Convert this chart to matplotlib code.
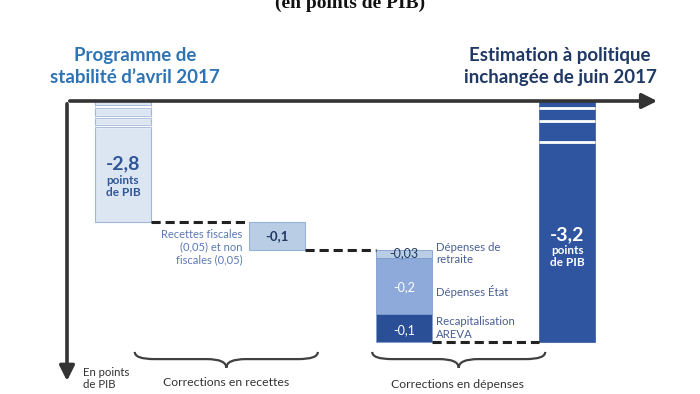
import matplotlib
matplotlib.use('Agg')
import matplotlib.pyplot as plt
from matplotlib.path import Path
from matplotlib.patches import PathPatch

plt.rcParams['font.family'] = ['Lato', 'DejaVu Sans']

# donnees (en points de PIB)
depart = -2.8          # Programme de stabilite d'avril 2017
recettes = -0.1        # corrections en recettes
depenses = [-0.03, -0.2, -0.1]   # retraite, Etat, AREVA
arrivee = -3.2         # estimation a politique inchangee
lab_depenses = ['-0,03', '-0,2', '-0,1']
noms_depenses = ['Dépenses de\nretraite', 'Dépenses État', 'Recapitalisation\nAREVA']

xpos = [1.0, 3.75, 6.02, 8.93]
w = 1.0
coupure = -2.368   # axe horizontal (echelle coupee)

c_clair = '#dce6f2'
c_moyen = '#b9cde5'
c_mid = '#8eaadb'
c_fonce = '#2f55a0'
c_bord = '#9fb6d6'

fig = plt.figure(figsize=(7, 3.94), dpi=100)
ax = fig.add_axes([67/700, 0, 593/700, 293/394])
ax.set_xlim(0, 593/56)
ax.set_ylim(-2.8 - 172/280, coupure)
ax.axis('off')

# barre 1
ax.bar(xpos[0], depart - coupure, bottom=coupure, width=w, color=c_clair, edgecolor=c_bord, lw=0.8)
for yb in [-2.389, -2.425, -2.457]:
    ax.hlines(yb, xpos[0]-w/2, xpos[0]+w/2, color='white', lw=2.5, zorder=3)
    ax.hlines([yb-0.005, yb+0.005], xpos[0]-w/2, xpos[0]+w/2, color=c_bord, lw=0.6, zorder=3)

# barre 2
ax.bar(xpos[1], recettes, bottom=depart, width=w, color=c_moyen, edgecolor='#95b3d7', lw=0.8)

# barre 3 empilee
bas = depart + recettes
cols3 = [c_moyen, c_mid, '#2a4f96']
for v, c in zip(depenses, cols3):
    ax.bar(xpos[2], v, bottom=bas, width=w, color=c, edgecolor='#7f9fcf', lw=0.6)
    bas += v
fin = bas

# barre 4
ax.bar(xpos[3], fin - coupure, bottom=coupure, width=w, color=c_fonce, edgecolor=c_fonce, lw=0.5)
for yb in [-2.393, -2.439, -2.514]:
    ax.hlines(yb, xpos[3]-w/2, xpos[3]+w/2, color='white', lw=2, zorder=3)

# liaisons en tirets
niv = [depart, depart + recettes, fin]
for i in range(3):
    ax.plot([xpos[i]+w/2, xpos[i+1]-w/2], [niv[i], niv[i]], color='#222222',
            lw=2.2, ls=(0, (3, 1.6)), zorder=4)

# axes fleches
ax.annotate('', xy=(1.0, 1.0), xytext=(0, 1.0), xycoords='axes fraction',
            arrowprops=dict(arrowstyle='-|>,head_length=0.9,head_width=0.45', color='#333333', lw=2.6),
            annotation_clip=False)
ax.annotate('', xy=(0, 0.035), xytext=(0, 1.0), xycoords='axes fraction',
            arrowprops=dict(arrowstyle='-|>,head_length=0.9,head_width=0.45', color='#333333', lw=2.6),
            annotation_clip=False)

# textes des barres
ax.text(xpos[0], -2.593, '-2,8', ha='center', va='center', fontsize=14, fontweight='bold', color='#2f5597')
ax.text(xpos[0], -2.673, 'points\nde PIB', ha='center', va='center', fontsize=8.5, fontweight='bold',
        color='#2f5597', linespacing=1.05)
ax.text(xpos[1], depart + recettes/2, '-0,1', ha='center', va='center', fontsize=9.5,
        fontweight='bold', color='#1f3864')
ax.text(xpos[1] - w/2 - 0.12, -2.889, 'Recettes fiscales\n(0,05) et non\nfiscales (0,05)',
        ha='right', va='center', fontsize=8, color='#5a7ab5', linespacing=1.2)

ypos3 = [-2.911, -3.032, -3.186]
cols_txt = ['#1f3864', 'white', 'white']
for y, t, c in zip(ypos3, lab_depenses, cols_txt):
    ax.text(xpos[2], y, t, ha='center', va='center', fontsize=9, color=c)
xl = xpos[2] + w/2 + 0.07
ax.text(xl, -2.9125, noms_depenses[0], ha='left', va='center', fontsize=8.2,
        color='#4a5f94', linespacing=1.15)
ax.text(xl, -3.05, noms_depenses[1], ha='left', va='center', fontsize=8.2,
        color='#4a5f94')
ax.text(xl, -3.179, noms_depenses[2], ha='left', va='center', fontsize=8.2,
        color='#4a5f94', linespacing=1.15)

ax.text(xpos[3], -2.846, '-3,2', ha='center', va='center', fontsize=14, fontweight='bold', color='white')
ax.text(xpos[3], -2.923, 'points\nde PIB', ha='center', va='center', fontsize=8.5, fontweight='bold',
        color='white', linespacing=1.1)

ax.text(0.29, -3.359, 'En points\nde PIB', ha='left', va='center', fontsize=8.2, color='#333333',
        linespacing=1.15)


# accolades
def accolade(x0, x1, yh, yb):
    xm = (x0 + x1) / 2
    ym = yh - (yh - yb) * 0.45
    d = 0.35
    verts = [(x0, yh), (x0, ym), (x0 + d, ym), (xm - d, ym), (xm, ym), (xm, yb),
             (xm, ym), (xm + d, ym), (x1 - d, ym), (x1, ym), (x1, yh)]
    codes = [Path.MOVETO, Path.CURVE3, Path.CURVE3, Path.LINETO, Path.CURVE3, Path.CURVE3,
             Path.CURVE3, Path.CURVE3, Path.LINETO, Path.CURVE3, Path.CURVE3]
    ax.add_patch(PathPatch(Path(verts, codes), fc='none', ec='#404040', lw=1.6))


accolade(1.21, 4.48, -3.264, -3.321)
accolade(5.45, 8.54, -3.264, -3.321)
ax.text(2.85, -3.375, 'Corrections en recettes', ha='center', va='center', fontsize=8.8, color='#333333')
ax.text(6.98, -3.382, 'Corrections en dépenses', ha='center', va='center', fontsize=8.8, color='#333333')

# titres
fig.text(135/700, 1 - 66.5/394, 'Programme de\nstabilité d\u2019avril 2017', ha='center', va='center',
         fontsize=13.5, fontweight='bold', color='#2e74b5', linespacing=1.3)
fig.text(560/700, 1 - 66.5/394, 'Estimation à politique\ninchangée de juin 2017', ha='center', va='center',
         fontsize=13.5, fontweight='bold', color='#203864', linespacing=1.3)
fig.text(0.5, 1 - 3/394, '(en points de PIB)', ha='center', va='center', fontsize=14,
         fontweight='bold', family=['Liberation Serif', 'DejaVu Serif'], color='#111111')

fig.savefig('out.png', dpi=100)
